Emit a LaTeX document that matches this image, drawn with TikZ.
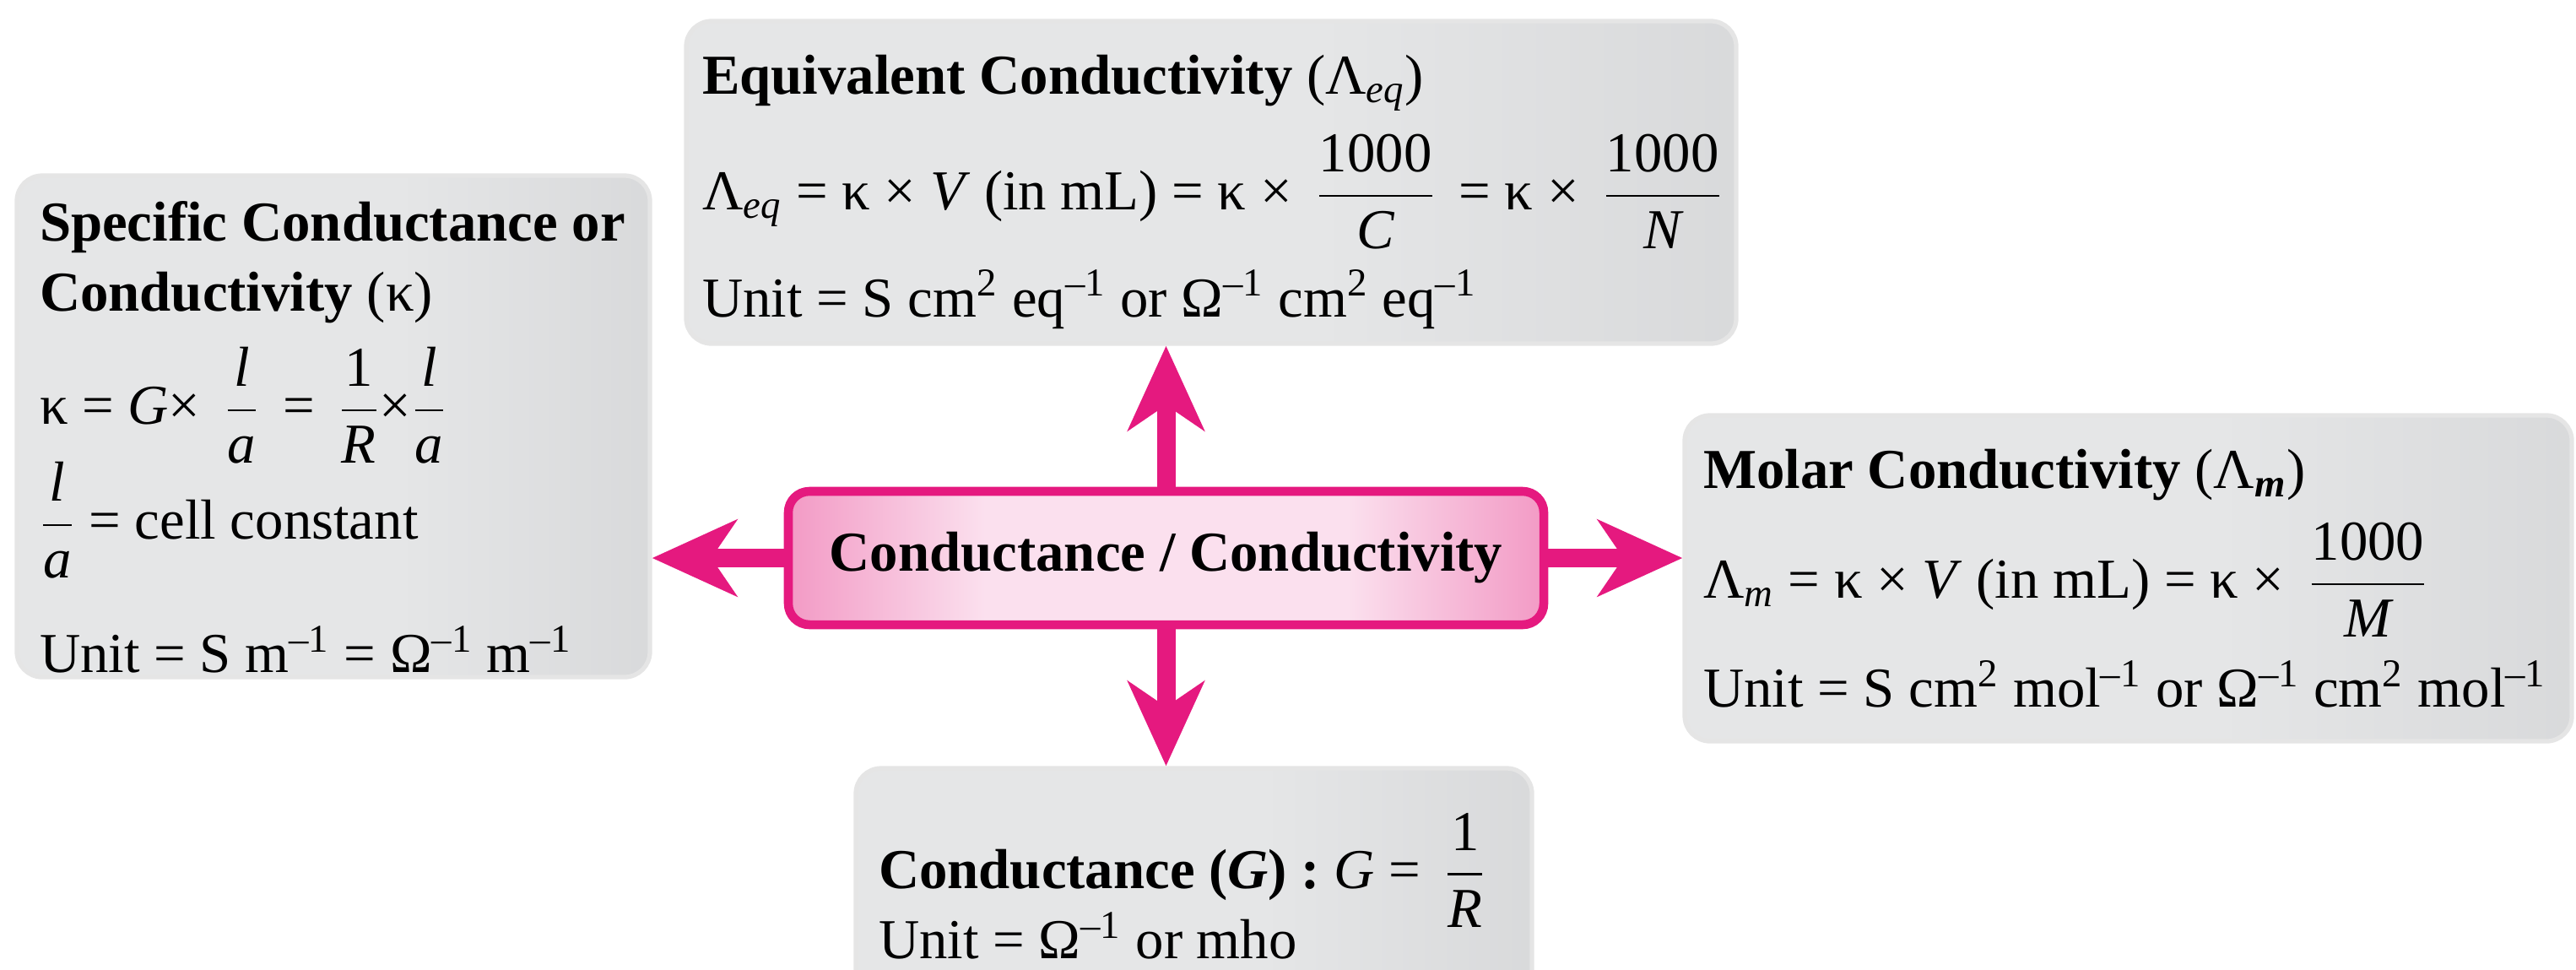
\RequirePackage{fix-cm}
\documentclass[tikz,border=0pt]{standalone}
\usepackage{amsmath}
\usepackage{fontspec}
\setmainfont{Liberation Serif}
\usetikzlibrary{arrows.meta, positioning}
\definecolor{pinkD}{HTML}{E5197F}
\definecolor{pinkM}{HTML}{EF7FB5}
\definecolor{pinkL}{HTML}{FBE0EE}
\definecolor{cardD}{HTML}{C9CACC}
\definecolor{cardL}{HTML}{E5E6E7}
\pgfdeclarehorizontalshading{cardshade}{100bp}{color(0bp)=(cardD); color(15bp)=(cardL); color(55bp)=(cardL); color(100bp)=(cardD)}
\pgfdeclarehorizontalshading{hubshade}{100bp}{color(0bp)=(pinkD); color(5bp)=(pinkD); color(20bp)=(pinkM); color(38bp)=(pinkL); color(62bp)=(pinkL); color(80bp)=(pinkM); color(95bp)=(pinkD); color(100bp)=(pinkD)}
\newcommand{\cardfont}{\fontsize{19}{23.6}\selectfont}
\newcommand{\up}[1]{\textsuperscript{#1}}

\begin{document}
\begin{tikzpicture}[
      card/.style={rectangle, rounded corners=0.3cm, shade, shading=cardshade, draw=gray!20, line width=1.5pt},
      hub/.style={rectangle, rounded corners=0.25cm, shade, shading=hubshade, draw=pinkD, line width=3pt,
                  minimum width=8.95cm, minimum height=1.58cm, font=\cardfont\bfseries},
      txt/.style={align=left, inner sep=0pt, font=\cardfont},
      arr/.style={-{Stealth[length=1cm, width=0.9cm, inset=0.3cm]}, line width=0.22cm, pinkD}
    ]
      \useasboundingbox (0,0) rectangle (30.52,-11.48);
      \clip (0,0) rectangle (30.52,-11.48);
      \node[hub] (hub) at (13.815,-6.61) {Conductance / Conductivity};
      \node[card, minimum width=7.50cm, minimum height=5.94cm] (spec) at (3.95,-5.05) {};
      \node[card, minimum width=12.44cm, minimum height=3.82cm] (equiv) at (14.35,-2.16) {};
      \node[card, minimum width=10.51cm, minimum height=3.86cm] (molar) at (25.215,-6.85) {};
      \node[card, minimum width=8.01cm, minimum height=2.9cm] (cond) at (14.145,-10.55) {};
      % texts
      \node[txt, right=0.29cm of spec.west, yshift=-0.13cm] (spectxt) {%
        {\bfseries Specific Conductance or}\\
        {\bfseries Conductivity} (κ)\\[7pt]
        κ = \textit{G}×\, $\dfrac{\textit{l}}{\textit{a}}$\, = \,$\dfrac{\textrm{1}}{\textit{R}}$×$\dfrac{\textit{l}}{\textit{a}}$\\[-1.5pt]
        $\dfrac{\textit{l}}{\textit{a}}$ = cell constant\\[15pt]
        Unit = S m\up{–1} = Ω\up{–1} m\up{–1}};
      \node[txt, right=0.21cm of equiv.west, yshift=-0.11cm] (equivtxt) {%
        {\bfseries Equivalent Conductivity} (Λ$_{\textit{eq}}$)\\[7pt]
        Λ$_{\textit{eq}}$ = κ × \textit{V} (in mL) = κ × \,$\dfrac{\textrm{1000}}{\textit{C}}$\, = κ × \,$\dfrac{\textrm{1000}}{\textit{N}}$\\[6pt]
        Unit = S cm\up{2} eq\up{–1} or Ω\up{–1} cm\up{2} eq\up{–1}};
      \node[txt, right=0.24cm of molar.west] (molartxt) {%
        {\bfseries Molar Conductivity} (Λ$_{\textit{\textbf{m}}}$)\\[6.5pt]
        Λ$_{\textit{m}}$ = κ × \textit{V} (in mL) = κ × \,$\dfrac{\textrm{1000}}{\textit{M}}$\\[7pt]
        Unit = S cm\up{2} mol\up{–1} or Ω\up{–1} cm\up{2} mol\up{–1}};
      \node[txt, right=0.29cm of cond.west, yshift=-0.16cm] (condtxt) {%
        {\bfseries Conductance (\textit{G}) :} \textit{G} = \,\smash{$\dfrac{\textrm{1}}{\textit{R}}$}\\
        Unit = Ω\up{–1} or mho};
      % arrows out of the hub
      \draw[arr] (hub.north) -- (hub.north |- equiv.south);
      \draw[arr] (hub.south) -- (hub.south |- cond.north);
      \draw[arr] (hub.west) -- (hub.west -| spec.east);
      \draw[arr] (hub.east) -- (hub.east -| molar.west);
    \end{tikzpicture}
\end{document}
